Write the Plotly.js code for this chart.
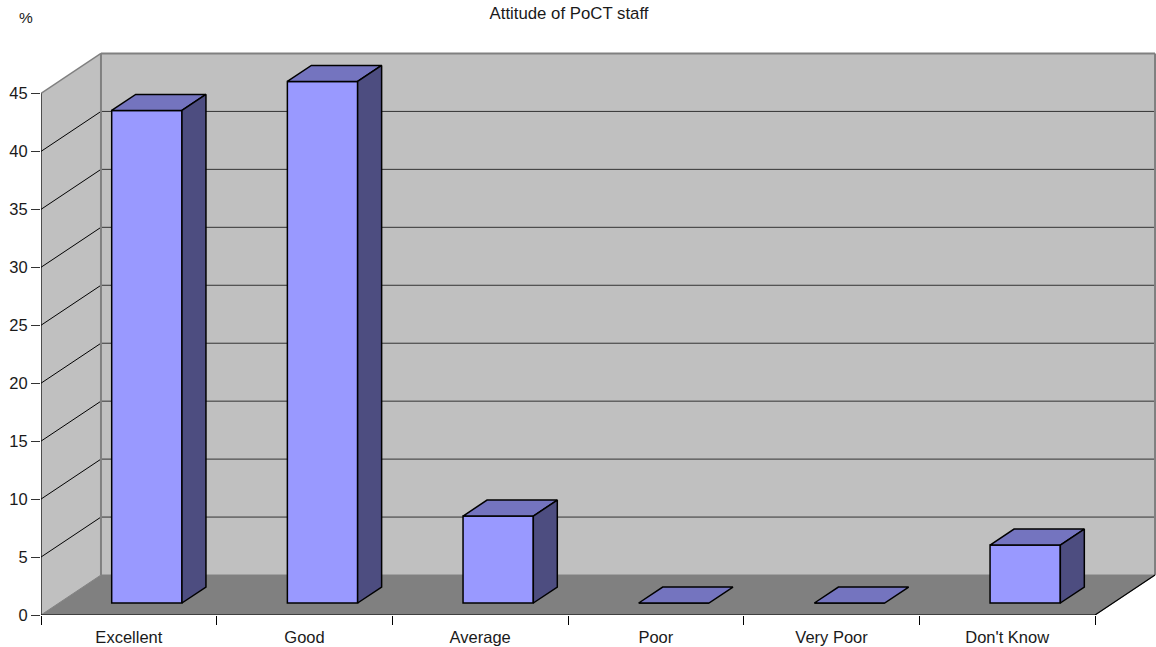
<!DOCTYPE html>
<html>
<head>
<meta charset="utf-8">
<script src="https://cdn.plot.ly/plotly-3.0.1.min.js"></script>
<style>html,body{margin:0;padding:0;background:#fff}</style>
</head>
<body>
<div id="chart" style="width:1156px;height:647px"></div>
<script>
// Survey results: percentage of respondents per rating
const categories = ["Excellent", "Good", "Average", "Poor", "Very Poor", "Don't Know"];
const values = [42.5, 45, 7.5, 0, 0, 5];
const yTicks = [0, 5, 10, 15, 20, 25, 30, 35, 40, 45];
const categoryEdges = [-0.5, 0.5, 1.5, 2.5, 3.5, 4.5, 5.5];

// Oblique projection: how far the back plane is shifted, in axis units
const depthX = 0.3414;
const depthY = 3.45;
const barHalf = 0.2;
const barFront = 0.3;
const barBack = 0.7;

const px = (c, d) => c + d * depthX;
const py = (v, d) => v + d * depthY;
const xMin = -0.5, xMax = 5.5;
const yTop = 45;

const colors = {
  wall: "#C0C0C0", floor: "#808080", edge: "#808080",
  front: "#9999FF", top: "#7474BF", side: "#4D4D80"
};

function poly(points, fill, lineColor, lineWidth) {
  const path = points.map((p, i) => (i ? "L" : "M") + p[0] + "," + p[1]).join(" ") + " Z";
  return {
    type: "path", path, xref: "x", yref: "y", layer: "below",
    fillcolor: fill, line: {color: lineColor, width: lineWidth}
  };
}
function seg(x0, y0, x1, y1, color, width) {
  return {type: "line", x0, y0, x1, y1, xref: "x", yref: "y", layer: "below",
          line: {color, width}};
}

// Walls and floor of the box
const shapes = [
  poly([[xMin, 0], [px(xMin, 1), py(0, 1)], [px(xMin, 1), py(yTop, 1)], [xMin, yTop]], colors.wall, colors.wall, 0),
  poly([[px(xMin, 1), py(0, 1)], [px(xMax, 1), py(0, 1)], [px(xMax, 1), py(yTop, 1)], [px(xMin, 1), py(yTop, 1)]], colors.wall, colors.wall, 0),
  poly([[xMin, 0], [xMax, 0], [px(xMax, 1), py(0, 1)], [px(xMin, 1), py(0, 1)]], colors.floor, colors.floor, 1)
];
// Gridlines wrap from the left wall onto the back wall
yTicks.filter(v => v > 0 && v < yTop).forEach(v => {
  shapes.push(seg(xMin, v, px(xMin, 1), py(v, 1), "#000", 1));
  shapes.push(seg(px(xMin, 1), py(v, 1), px(xMax, 1), py(v, 1), "#333", 1));
});
// Grey outline of the walls sits over the gridline ends
shapes.push(seg(xMin, yTop, px(xMin, 1), py(yTop, 1), colors.edge, 1.5));
shapes.push(seg(px(xMin, 1), py(yTop, 1), px(xMax, 1), py(yTop, 1), colors.edge, 2));
shapes.push(seg(px(xMin, 1), py(0, 1), px(xMin, 1), py(yTop, 1), colors.edge, 2));
shapes.push(seg(px(xMax, 1), py(0, 1), px(xMax, 1), py(yTop, 1), colors.edge, 2));

function faceTrace(xs, ys, fill) {
  return {
    type: "scatter", mode: "lines", x: xs, y: ys, fill: "toself", fillcolor: fill,
    line: {color: "#000", width: 1.5}, hoverinfo: "skip", showlegend: false, cliponaxis: false
  };
}

const traces = [];
// Front faces of the bars
traces.push({
  type: "bar",
  x: categories.map((_, i) => px(i, barFront)),
  y: values,
  base: values.map(() => py(0, barFront)),
  width: 2 * barHalf,
  marker: {color: colors.front, line: {color: "#000", width: 1.5}},
  showlegend: false, hoverinfo: "skip"
});
// Top and side faces
values.forEach((v, i) => {
  const l = i - barHalf, r = i + barHalf;
  traces.push(faceTrace(
    [px(l, barFront), px(r, barFront), px(r, barBack), px(l, barBack), px(l, barFront)],
    [py(v, barFront), py(v, barFront), py(v, barBack), py(v, barBack), py(v, barFront)],
    colors.top));
  if (v > 0) {
    traces.push(faceTrace(
      [px(r, barFront), px(r, barBack), px(r, barBack), px(r, barFront), px(r, barFront)],
      [py(0, barFront), py(0, barBack), py(v, barBack), py(v, barFront), py(0, barFront)],
      colors.side));
  }
});
// Front axis lines and the floor's open right edge
traces.push({
  type: "scatter", mode: "lines",
  x: [xMin, xMin, null, xMin, xMax, px(xMax, 1)],
  y: [yTop, 0, null, 0, 0, py(0, 1)],
  line: {color: "#000", width: 1.2}, hoverinfo: "skip", showlegend: false, cliponaxis: false
});
// Axis carrying the boundary tick marks between categories
traces.push({type: "scatter", x: categoryEdges, y: categoryEdges.map(() => 0), xaxis: "x2",
  mode: "none", hoverinfo: "skip", showlegend: false});

const fontFamily = "Liberation Sans, Arial, sans-serif";
const labelFont = {family: fontFamily, size: 16.5, color: "#1a1a1a"};
const plotRange = [xMin, 5.847];

const layout = {
  width: 1156, height: 647,
  margin: {l: 40.5, r: 0, t: 50, b: 31.5},
  paper_bgcolor: "#fff", plot_bgcolor: "#fff",
  bargap: 0, showlegend: false,
  title: {text: "Attitude of PoCT staff", x: 569 / 1156, xanchor: "center", y: 1 - 13.5 / 647, yanchor: "middle",
          font: {family: fontFamily, size: 16.8, color: "#1a1a1a"}},
  xaxis: {
    range: plotRange, tickmode: "array", tickvals: categories.map((_, i) => i), ticktext: categories,
    ticks: "", showgrid: false, zeroline: false, showline: false, tickfont: labelFont,
    ticklabelstandoff: 10, fixedrange: true
  },
  xaxis2: {
    overlaying: "x", anchor: "y", side: "bottom", range: plotRange,
    tickmode: "array", tickvals: categoryEdges, ticktext: categoryEdges.map(() => ""),
    ticks: "outside", ticklen: 9, tickcolor: "#000", tickwidth: 1,
    showgrid: false, zeroline: false, showline: false, fixedrange: true
  },
  yaxis: {
    range: [0, 48.75], tickmode: "array", tickvals: yTicks,
    ticks: "outside", ticklen: 9, tickcolor: "#333", tickwidth: 1,
    showgrid: false, zeroline: false, showline: false, tickfont: labelFont, fixedrange: true
  },
  shapes,
  annotations: [{
    text: "%", xref: "paper", yref: "paper", x: -15 / 1115.5, y: 1 + (50 - 17) / 565.5,
    xanchor: "center", yanchor: "middle", showarrow: false,
    font: {family: fontFamily, size: 15.5, color: "#1a1a1a"}
  }]
};

Plotly.newPlot("chart", traces, layout, {displayModeBar: false, staticPlot: true});
</script>
</body>
</html>
